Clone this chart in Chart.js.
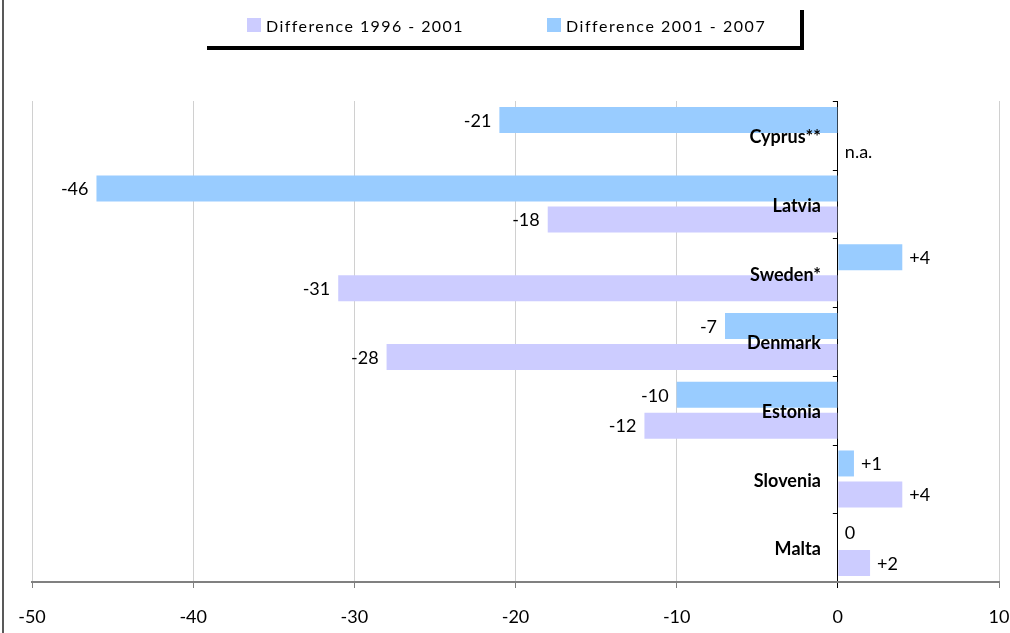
<!DOCTYPE html>
<html lang="en">
<head>
<meta charset="UTF-8">
<title>Difference 1996 - 2001 / 2001 - 2007</title>
<style>
  body { margin: 0; background: #fff; }
  canvas { display: block; }
</style>
</head>
<body>
<canvas id="myChart" width="1010" height="633"></canvas>
<script src="https://cdn.jsdelivr.net/npm/chart.js"></script>
<script>
// data
const countries = ['Cyprus**', 'Latvia', 'Sweden*', 'Denmark', 'Estonia', 'Slovenia', 'Malta'];
const diff2001_2007 = [-21, -46, 4, -7, -10, 1, 0];
const diff1996_2001 = [null, -18, -31, -28, -12, 4, 2];
const xTicks = [-50, -40, -30, -20, -10, 0, 10];

const FONT = 'Lato';

function fmt(v) {
    if (v === null || v === undefined) return 'n.a.';
    if (v > 0) return '+' + v;
    return String(v);
}

// value labels next to each bar + category names over the bars
const barLabels = {
    id: 'barLabels',
    afterDatasetsDraw(chart) {
        const ctx = chart.ctx;
        const x0 = chart.scales.x.getPixelForValue(0);
        const yScale = chart.scales.y;
        ctx.save();
        ctx.fillStyle = '#000';
        ctx.textBaseline = 'middle';
        ctx.font = '18px ' + FONT;
        chart.data.datasets.forEach((ds, di) => {
            const meta = chart.getDatasetMeta(di);
            meta.data.forEach((el, i) => {
                const v = ds.data[i];
                const y = el.y + 1;
                if (v === null || v >= 0) {
                    const x = (v === null || v === 0) ? x0 : el.x;
                    ctx.textAlign = 'left';
                    ctx.fillText(fmt(v), x + 7, y);
                } else {
                    ctx.textAlign = 'right';
                    ctx.fillText(fmt(v), el.x - 8, y);
                }
            });
        });

        // small ticks on the zero line at category boundaries
        ctx.strokeStyle = '#000';
        ctx.lineWidth = 1;
        const step = (yScale.bottom - yScale.top) / countries.length;
        for (let k = 0; k < countries.length; k++) {
            const yy = Math.round(yScale.top + k * step) + 0.5;
            ctx.beginPath();
            ctx.moveTo(x0 - 5, yy);
            ctx.lineTo(x0, yy);
            ctx.stroke();
        }

        ctx.font = 'bold 18px ' + FONT;
        ctx.textAlign = 'right';
        countries.forEach((c, i) => {
            ctx.fillText(c, x0 - 17, yScale.getPixelForValue(i) + 2);
        });
        ctx.restore();
    }
};

// legend box with shadow lines, and the frame line on the left
const frameLegend = {
    id: 'frameLegend',
    afterDraw(chart) {
        const ctx = chart.ctx;
        ctx.save();
        ctx.fillStyle = '#595959';
        ctx.fillRect(2, 0, 2, chart.height);

        ctx.fillStyle = '#000';
        ctx.fillRect(207, 46, 597, 4);
        ctx.fillRect(800, 10, 4, 40);

        const items = chart.data.datasets.slice().reverse();
        const pos = [247, 547];
        const widths = [196, 198];
        ctx.font = '16px ' + FONT;
        ctx.textBaseline = 'alphabetic';
        ctx.textAlign = 'left';
        items.forEach((ds, i) => {
            ctx.fillStyle = ds.backgroundColor;
            ctx.fillRect(pos[i], 18, 14, 14);
            ctx.fillStyle = '#000';
            const txt = ds.label;
            ctx.letterSpacing = '0px';
            const w = ctx.measureText(txt).width;
            const sp = Math.max(0, (widths[i] - w) / (txt.length - 1));
            ctx.letterSpacing = sp.toFixed(2) + 'px';
            ctx.fillText(txt, pos[i] + 19, 32);
        });
        ctx.restore();
    }
};

const ctx = document.getElementById('myChart').getContext('2d');
const myChart = new Chart(ctx, {
    type: 'bar',
    data: {
        labels: countries,
        datasets: [{
            label: 'Difference 2001 - 2007',
            data: diff2001_2007,
            backgroundColor: '#99CCFF',
            borderWidth: 0
        }, {
            label: 'Difference 1996 - 2001',
            data: diff1996_2001,
            backgroundColor: '#CCCCFF',
            borderWidth: 0
        }]
    },
    options: {
        indexAxis: 'y',
        responsive: false,
        animation: false,
        devicePixelRatio: 1,
        categoryPercentage: 0.9,
        barPercentage: 0.84,
        layout: { padding: { top: 101, left: 32, right: 11, bottom: 0 } },
        plugins: {
            legend: { display: false },
            tooltip: { enabled: false }
        },
        scales: {
            x: {
                min: -50,
                max: 10,
                afterBuildTicks: s => { s.ticks = xTicks.map(v => ({ value: v })); },
                afterFit: s => { s.height = 51; },
                ticks: {
                    color: '#000',
                    padding: 0,
                    font: { family: FONT, size: 18, lineHeight: 3.2 }
                },
                grid: {
                    color: c => (c.tick && c.tick.value === 0) ? '#000' : '#d0d0d0',
                    tickColor: c => (c.tick && c.tick.value === 0) ? '#000' : '#808080',
                    tickLength: 6
                },
                border: { color: '#808080', width: 2 }
            },
            y: {
                type: 'category',
                display: false,
                offset: true
            }
        }
    },
    plugins: [barLabels, frameLegend]
});
</script>
</body>
</html>
